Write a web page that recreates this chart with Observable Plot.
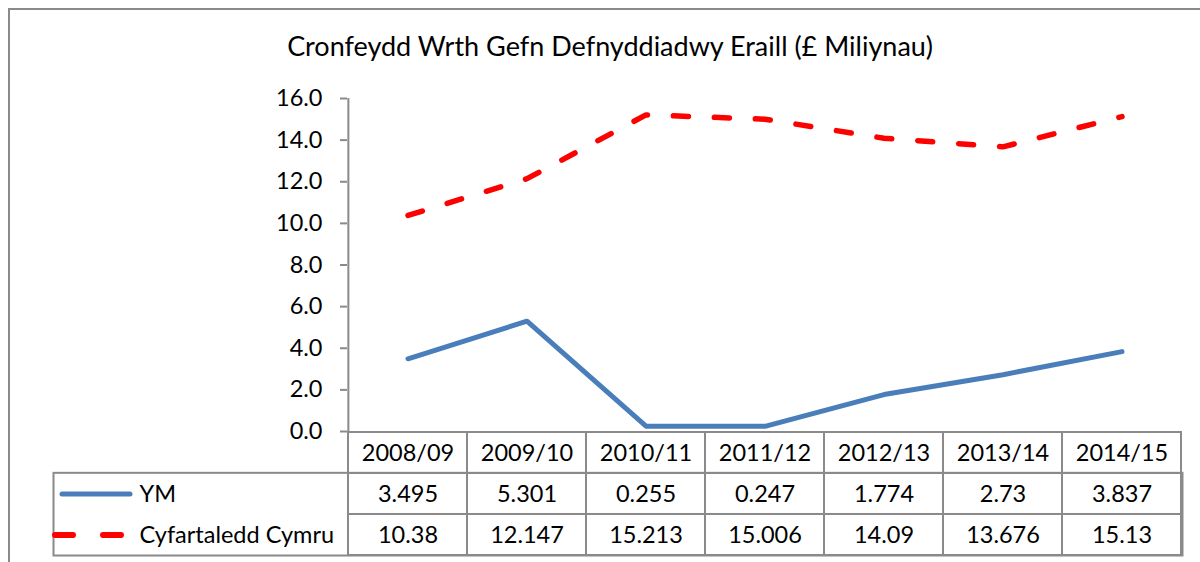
<!DOCTYPE html>
<html>
<head>
<meta charset="utf-8">
<script src="https://cdn.jsdelivr.net/npm/d3@7"></script>
<script src="https://cdn.jsdelivr.net/npm/@observablehq/plot@0.6"></script>
<style>
  html, body { margin: 0; padding: 0; background: #fff; }
  #wrap { position: relative; width: 1200px; height: 562px; overflow: hidden; background: #fff; font-family: Lato, "Open Sans", sans-serif; }
  #border { position: absolute; left: 8px; top: 8px; width: 1300px; height: 700px; border-top: 2px solid #8a8a8a; border-left: 2px solid #8a8a8a; box-sizing: border-box; }
  #title { position: absolute; left: 0; width: 1220px; top: 30px; text-align: center; font-size: 27px; line-height: 32px; color: #000; white-space: nowrap; }
  .layer { position: absolute; left: 0; top: 0; }
</style>
</head>
<body>
<div id="wrap">
  <div id="border"></div>
  <div id="title">Cronfeydd Wrth Gefn Defnyddiadwy Eraill (£ Miliynau)</div>
  <div id="chart" class="layer"></div>
  <div id="table" class="layer"></div>
</div>
<script>
// ---- data ----
const years = ["2008/09", "2009/10", "2010/11", "2011/12", "2012/13", "2013/14", "2014/15"];
const seriesNames = ["YM", "Cyfartaledd Cymru"];
const ymValues = [3.495, 5.301, 0.255, 0.247, 1.774, 2.73, 3.837];
const cymruValues = [10.38, 12.147, 15.213, 15.006, 14.09, 13.676, 15.13];
const ymLabels = ["3.495", "5.301", "0.255", "0.247", "1.774", "2.73", "3.837"];
const cymruLabels = ["10.38", "12.147", "15.213", "15.006", "14.09", "13.676", "15.13"];
const yTicks = [0, 2, 4, 6, 8, 10, 12, 14, 16];
const yTickLabels = ["0.0", "2.0", "4.0", "6.0", "8.0", "10.0", "12.0", "14.0", "16.0"];

// ---- styling / layout ----
const W = 1200, H = 562;
const plotLeft = 347, plotRight = 1182, plotTop = 98, plotBottom = 431;
const tableBottom = 555, legendLeft = 53;
const grey = "#8a8a8a";
const blue = "#4A7EBB";
const red = "#FF0000";
const font = "Lato, 'Open Sans', sans-serif";
const fontSize = "23.5px";
const bandW = (plotRight - plotLeft) / years.length;
const rowH = (tableBottom - plotBottom) / 3;

const ymData = years.map((year, i) => ({year, value: ymValues[i]}));
const cymruData = years.map((year, i) => ({year, value: cymruValues[i]}));
const svgStyle = {background: "transparent", fontFamily: font, fontSize, color: "#000", overflow: "visible", maxWidth: "none"};

const chart = Plot.plot({
  width: W, height: H,
  marginLeft: plotLeft, marginRight: W - plotRight, marginTop: plotTop, marginBottom: H - plotBottom,
  style: svgStyle,
  x: {type: "band", domain: years, padding: 0, axis: null},
  y: {domain: [0, 16], axis: null},
  marks: [
    Plot.ruleY(yTicks, {y: d => d, stroke: grey, strokeWidth: 2, insetLeft: -7, insetRight: plotRight - plotLeft}),
    Plot.ruleX([years[0]], {x: d => d, dx: -bandW / 2, stroke: grey, strokeWidth: 2}),
    Plot.text(yTicks, {y: d => d, text: (d, i) => yTickLabels[i], frameAnchor: "left", textAnchor: "end", dx: -25, fill: "#000"}),
    Plot.line(cymruData, {x: "year", y: "value", stroke: red, strokeWidth: 5.5, strokeDasharray: "15,26", strokeLinecap: "round", strokeLinejoin: "round"}),
    Plot.line(ymData, {x: "year", y: "value", stroke: blue, strokeWidth: 5, strokeLinecap: "round", strokeLinejoin: "round"})
  ]
});
document.getElementById("chart").appendChild(chart);

// ---- data table ----
const rowKeys = ["hdr", "YM", "Cyf"];
const cells = [];
years.forEach((year, i) => {
  cells.push({year, row: "hdr", text: year});
  cells.push({year, row: "YM", text: ymLabels[i]});
  cells.push({year, row: "Cyf", text: cymruLabels[i]});
});
const legendRows = [
  {row: "YM", name: seriesNames[0], stroke: blue},
  {row: "Cyf", name: seriesNames[1], stroke: red}
];

const table = Plot.plot({
  width: W, height: H,
  marginLeft: legendLeft, marginRight: W - plotRight, marginTop: plotBottom, marginBottom: H - tableBottom,
  style: svgStyle,
  x: {type: "band", domain: years, range: [plotLeft, plotRight], padding: 0, axis: null},
  y: {type: "band", domain: rowKeys, padding: 0, axis: null},
  marks: [
    Plot.cell(cells, {x: "year", y: "row", fill: "none", stroke: grey, strokeWidth: 2, inset: 0}),
    Plot.frame({insetTop: rowH, stroke: grey, strokeWidth: 2}),
    Plot.text(cells, {x: "year", y: "row", text: "text", fill: "#000"}),
    Plot.text(legendRows, {y: "row", text: "name", frameAnchor: "left", textAnchor: "start", dx: 86, fill: "#000"}),
    Plot.ruleY([legendRows[0]], {y: "row", stroke: d => d.stroke, strokeWidth: 5, strokeLinecap: "round", insetLeft: 9, insetRight: plotRight - 130}),
    Plot.ruleY([legendRows[1]], {y: "row", stroke: d => d.stroke, strokeWidth: 6, strokeLinecap: "round", strokeDasharray: "18,30", insetLeft: 2, insetRight: plotRight - 126})
  ]
});
document.getElementById("table").appendChild(table);
</script>
</body>
</html>
